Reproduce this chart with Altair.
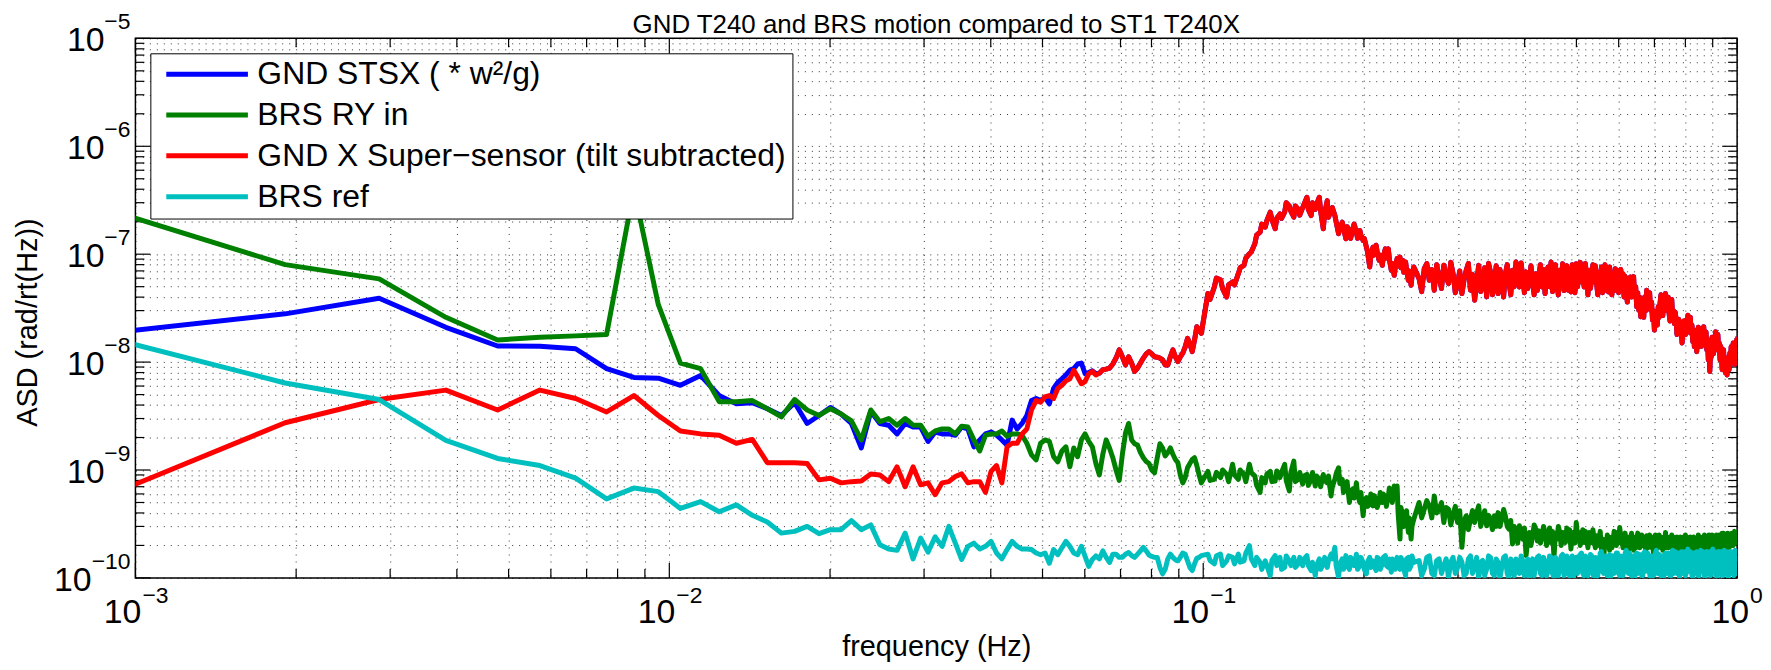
import altair as alt
import pandas as pd

FONT = "Liberation Sans"
W, H = 1609, 542
DF_HZ = 1.0 / 1048.576  # frequency resolution of the spectra (Hz per bin)

TITLE = "GND T240 and BRS motion compared to ST1 T240X"
X_TITLE = "frequency (Hz)"
Y_TITLE = "ASD (rad/rt(Hz))"

SERIES = ["GND STSX ( * w\u00b2/g)", "BRS RY in",
          "GND X Super\u2212sensor (tilt subtracted)", "BRS ref"]
COLORS = ["#0000FF", "#008000", "#FF0000", "#00BFBF"]

# bins: A = every bin from 1; B = from 107 step 3 (B2 one bin later);
# C = from 266 step 6 (C2 three bins later)
K_A_START = 1
K_B_START, K_B_STEP, K_B2_OFF = 107, 3, 1
K_C_START, K_C_STEP, K_C2_OFF = 266, 6, 3

NANO = 1e-9
TENTH_NANO = 1e-10

# ---- GND X Super-sensor (red), units of 1e-9 ----
RED_A = [0.67, 2.74, 4.5, 5.5, 3.6, 5.5, 4.6, 3.45, 4.9, 3.2,
         2.3, 2.16, 2.1, 1.77, 1.92, 1.17, 1.17, 1.17, 1.15, 0.81,
         0.84, 0.76, 0.78, 0.79, 0.92, 0.90, 0.78, 1.07, 0.70, 1.07,
         0.73, 0.76, 0.59, 0.76, 0.78, 0.87, 0.92, 0.76, 0.78, 0.78,
         0.62, 0.97, 1.1, 0.76, 1.64, 1.77, 1.77, 2.16, 2.4, 3.6,
         4.4, 4.25, 4.75, 4.9, 4.6, 5.7, 6.1, 6.7, 7.0, 8.4,
         7.3, 6.3, 6.6, 7.8, 8.2, 7.6, 7.9, 8.5, 8.6, 8.8,
         9.6, 10.9, 13.0, 11.2, 9.4, 11.2, 9.8, 8.2, 8.8, 9.8,
         10.9, 11.9, 12.5, 11.9, 11.2, 11.1, 10.9, 10.5, 9.4, 9.4,
         11.2, 13.0, 11.2, 10.1, 11.2, 12.1, 13.8, 16.6, 14.8, 12.5,
         16.0, 21.3, 19.8, 18.5]
RED_B = [43.2, 49.7, 58.0, 40.2, 55.3, 66.0, 78.8, 101, 125, 160,
         178, 245, 172, 236, 245, 280, 220, 260, 270, 337,
         228, 260, 337, 172, 313, 260, 228, 155, 198, 139,
         166, 172, 160, 166, 134, 116, 76.1, 116, 121, 87.7,
         78.8, 112, 112, 70.9, 63.7, 91, 94, 87.7, 84.6, 57.3,
         51.6, 76.1]
RED_B2 = [38, 60, 48, 52, 52, 75, 92, 105, 150, 190,
          205, 210, 215, 215, 300, 250, 280, 230, 290, 260,
          300, 290, 250, 240, 220, 270, 200, 175, 175, 180,
          140, 190, 140, 150, 140, 105, 95, 98, 105, 98,
          95, 92, 90, 82, 75, 78, 75, 68, 72, 70,
          62]
RED_C = [59.4, 73.4, 57.3, 46.4, 61.5, 78.8, 53.4, 66.0, 53.4, 43.2,
         70.9, 46.4, 37.5, 78.8, 53.4, 40.2, 68.4, 53.4, 43.2, 59.4,
         66.0, 55.3, 70.9, 84.6, 49.7, 61.5, 68.4, 57.3, 55.3, 66.0,
         63.7, 49.7, 43.2, 76.1, 84.6, 61.5, 53.4, 70.9, 81.7, 57.3,
         46.4, 44.7, 66.0, 81.7, 70.9, 55.3, 49.7, 59.4, 70.9, 63.7,
         55.3, 53.4, 68.4, 76.1, 61.5, 46.4, 44.7, 57.3, 66.0, 73.4,
         70.9, 55.3, 46.4, 40.2, 48.0, 59.4, 61.5, 53.4, 40.2, 32.5,
         30.3, 26.3, 32.5, 40.2, 46.4, 37.5, 30.3, 24.5, 19.8, 26.3,
         32.5, 34.9, 32.5, 37.5, 43.2, 34.9, 28.2, 32.5, 26.3, 22.8,
         24.5, 21.3, 18.5, 19.1, 18.5, 22.8, 24.5, 27.2, 22.8, 18.5,
         15.5, 13.9, 16.0, 17.8, 13.9, 17.2, 20.5, 21.3, 17.2, 13.0,
         10.5, 8.2, 11.2, 14.9, 17.2, 19.1, 16.0, 13.0, 10.5, 11.6,
         10.9, 9.1, 7.9, 7.6, 9.8, 12.1, 13.9, 13.0, 11.2, 13.0,
         16.0, 17.2]
RED_C2 = [45, 82, 72, 80, 48, 62, 84, 44, 70, 58,
          82, 65, 55, 45, 75, 82, 42, 78, 72, 40,
          80, 42, 50, 66, 83, 44, 48, 78, 42, 46,
          80, 72, 62, 50, 45, 80, 42, 52, 46, 78,
          70, 80, 44, 50, 84, 76, 82, 42, 48, 80,
          78, 42, 48, 44, 80, 68, 76, 42, 46, 48,
          44, 72, 66, 62, 36, 42, 40, 62, 50, 44,
          40, 38, 26, 30, 33, 44, 36, 30, 28, 22,
          26, 42, 27, 30, 31, 40, 24, 38, 30, 29,
          18, 25, 23, 15, 24, 18, 20, 19, 26, 22,
          20, 19, 12.5, 21, 18, 14, 16, 14.5, 19, 16,
          13, 12, 17, 12, 14, 13, 18, 15, 14, 8.5,
          13, 11, 10, 11, 8.5, 10, 10.5, 15, 9.5, 11,
          12]

# ---- GND STSX (blue), units of 1e-9; above bin 66 it lies under the red trace ----
BLUE_LOW = [19.2, 28, 39, 21, 14.1, 14.0, 13.3, 8.7, 7.2, 7.1,
            6.1, 7.5, 4.9, 4.1, 4.2, 3.7, 3.2, 4.2, 2.7, 3.2,
            3.8, 3.3, 2.7, 1.6, 3.5, 2.7, 2.6, 2.16, 2.7, 2.5,
            2.5, 1.84, 2.25, 2.16, 2.16, 2.1, 2.5, 2.4, 1.64, 1.9,
            2.16, 2.25, 2.1, 1.9, 1.7, 2.9, 2.4, 2.7, 3.2, 4.4,
            4.6, 4.4, 4.7, 4.1, 5.7, 6.5, 7.0, 7.6, 8.4, 8.7,
            9.6, 9.8, 7.8, 8.0, 8.3, 7.8]

# ---- BRS RY in (green), units of 1e-9 ----
GREEN_A = [231, 80, 59, 26, 16, 17, 17.5, 18, 400, 34,
           9.8, 8.7, 4.3, 4.3, 4.4, 3.7, 3.1, 4.5, 3.6, 3.2,
           3.7, 3.3, 2.85, 1.9, 3.6, 2.8, 3.0, 2.6, 3.0, 2.6,
           2.6, 2.05, 2.3, 2.4, 2.4, 2.16, 2.55, 2.5, 1.9, 1.5,
           2.1, 2.16, 2.16, 2.3, 2.05, 2.16, 2.16, 2.1, 1.77, 1.38,
           1.24, 1.77, 1.9, 1.84, 1.33, 1.19, 1.5, 1.64, 1.07, 1.6,
           1.33, 1.9, 2.16, 1.84, 1.64, 1.15, 0.9, 1.4, 1.9, 1.6,
           1.3, 1.0, 0.8, 1.4, 2.2, 2.7, 1.9, 1.75, 1.7, 1.45,
           1.3, 1.2, 1.15, 1.0, 0.94, 1.3, 1.75, 1.6, 1.35, 1.45,
           1.6, 1.4, 1.25, 1.17, 0.9, 0.76, 0.85, 1.05, 1.15, 1.25,
           1.3, 1.1, 0.9, 0.76]
GREEN_B = [0.97, 0.82, 0.85, 0.91, 1.13, 0.82, 0.91, 1.13, 0.88, 0.62,
           0.76, 0.97, 0.79, 0.85, 1.13, 0.64, 1.21, 0.82, 0.74, 0.91,
           0.82, 0.71, 0.82, 0.91, 0.76, 0.575, 0.82, 1.05, 0.82, 0.69,
           0.50, 0.67, 0.76, 0.50, 0.376, 0.555, 0.48, 0.465, 0.535, 0.52,
           0.50, 0.555, 0.575, 0.59, 0.71, 0.71, 0.229, 0.376, 0.326, 0.264,
           0.229, 0.35]
GREEN_B2 = [0.80, 0.95, 1.0, 0.78, 0.90, 1.0, 0.78, 0.95, 0.72, 0.85,
            0.92, 0.78, 0.98, 0.95, 0.80, 0.95, 0.78, 0.95, 0.88, 0.72,
            0.95, 0.88, 0.70, 0.80, 0.88, 0.70, 0.92, 0.75, 0.62, 0.78,
            0.62, 0.55, 0.60, 0.62, 0.50, 0.46, 0.60, 0.58, 0.45, 0.62,
            0.60, 0.46, 0.68, 0.50, 0.55, 0.40, 0.45, 0.30, 0.42, 0.36,
            0.30]
GREEN_C = [0.50, 0.433, 0.465, 0.575, 0.433, 0.326, 0.433, 0.39, 0.326, 0.192,
           0.376, 0.35, 0.326, 0.465, 0.35, 0.304, 0.35, 0.376, 0.403, 0.35,
           0.376, 0.283, 0.206, 0.264, 0.304, 0.229, 0.161, 0.264, 0.246, 0.283,
           0.273, 0.246, 0.264, 0.237, 0.213, 0.155, 0.229, 0.264, 0.264, 0.213,
           0.229, 0.185, 0.264, 0.326, 0.264, 0.221, 0.213, 0.246, 0.264, 0.237,
           0.229, 0.246, 0.221, 0.185, 0.155, 0.199, 0.229, 0.237, 0.221, 0.246,
           0.264, 0.293, 0.246, 0.221, 0.192, 0.172, 0.199, 0.229, 0.237, 0.221,
           0.246, 0.213, 0.199, 0.221, 0.246, 0.206, 0.192, 0.213, 0.199, 0.229,
           0.213, 0.192, 0.221, 0.237, 0.264, 0.229, 0.206, 0.192, 0.221, 0.237,
           0.206, 0.185, 0.199, 0.221, 0.199, 0.185, 0.229, 0.237, 0.206, 0.185,
           0.199, 0.229, 0.213, 0.192, 0.237, 0.213, 0.185, 0.206, 0.229, 0.199,
           0.185, 0.213, 0.192, 0.229, 0.206, 0.185, 0.221, 0.199, 0.246, 0.213,
           0.192, 0.229, 0.206, 0.185, 0.237, 0.221, 0.199, 0.246, 0.213, 0.255,
           0.221, 0.264]
GREEN_C2 = [0.36, 0.52, 0.36, 0.40, 0.50, 0.45, 0.31, 0.46, 0.42, 0.34,
            0.28, 0.42, 0.40, 0.30, 0.42, 0.38, 0.28, 0.30, 0.30, 0.43,
            0.30, 0.34, 0.30, 0.21, 0.25, 0.29, 0.22, 0.20, 0.31, 0.22,
            0.21, 0.30, 0.20, 0.29, 0.27, 0.26, 0.30, 0.20, 0.22, 0.29,
            0.28, 0.24, 0.21, 0.24, 0.20, 0.28, 0.27, 0.19, 0.21, 0.28,
            0.19, 0.20, 0.27, 0.23, 0.22, 0.25, 0.18, 0.19, 0.27, 0.20,
            0.21, 0.24, 0.19, 0.26, 0.24, 0.24, 0.26, 0.18, 0.19, 0.26,
            0.19, 0.25, 0.24, 0.18, 0.19, 0.25, 0.24, 0.17, 0.25, 0.19,
            0.25, 0.24, 0.18, 0.20, 0.19, 0.19, 0.24, 0.25, 0.18, 0.20,
            0.24, 0.23, 0.24, 0.18, 0.24, 0.25, 0.19, 0.18, 0.24, 0.23,
            0.24, 0.18, 0.19, 0.25, 0.18, 0.18, 0.24, 0.25, 0.19, 0.24,
            0.25, 0.18, 0.25, 0.19, 0.24, 0.25, 0.19, 0.25, 0.19, 0.26,
            0.26, 0.19, 0.25, 0.26, 0.19, 0.20, 0.26, 0.20, 0.27, 0.21,
            0.22]

# ---- BRS ref (cyan), units of 1e-10 ----
CYAN_A = [154, 64, 45, 18.8, 12.8, 11.0, 8.4, 5.4, 6.8, 6.3,
          4.4, 5.1, 4.1, 4.75, 3.8, 3.3, 2.6, 2.7, 3.0, 2.57,
          2.8, 2.8, 3.4, 2.8, 3.1, 2.03, 1.85, 1.8, 2.6, 1.5,
          2.34, 1.73, 2.4, 1.96, 3.0, 2.1, 1.48, 1.96, 2.1, 1.85,
          1.96, 2.18, 1.7, 1.5, 1.83, 2.18, 1.96, 1.85, 1.85, 1.83,
          1.7, 1.64, 1.7, 1.37, 1.83, 1.64, 1.9, 2.18, 1.96, 1.7,
          1.64, 1.96, 1.58, 1.28, 1.48, 1.6, 1.50, 1.78, 1.55, 1.39,
          1.66, 1.66, 1.55, 1.55, 1.66, 1.72, 1.61, 1.55, 1.66, 1.78,
          1.92, 1.78, 1.63, 1.58, 1.55, 1.55, 1.25, 1.09, 1.2, 1.5,
          1.66, 1.55, 1.47, 1.44, 1.55, 1.7, 1.66, 1.44, 1.25, 1.17,
          1.35, 1.52, 1.55, 1.61]
CYAN_B = [1.66, 1.35, 1.66, 1.44, 1.55, 1.66, 1.44, 1.99, 1.30, 1.39,
          1.44, 1.05, 1.61, 1.55, 1.25, 1.44, 1.55, 1.35, 1.30, 1.61,
          1.17, 1.05, 1.50, 1.35, 1.25, 1.66, 1.92, 1.01, 1.50, 1.61,
          1.2, 1.44, 1.66, 1.30, 1.39, 1.09, 1.55, 1.44, 1.17, 1.50,
          1.35, 1.61, 1.25, 1.13, 1.44, 1.55, 1.2, 1.39, 1.05, 1.55,
          1.30, 1.39]
CYAN_B2 = [1.45, 1.6, 1.3, 1.6, 1.35, 1.4, 1.7, 1.5, 1.55, 1.2,
           1.3, 1.45, 1.3, 1.2, 1.6, 1.3, 1.25, 1.55, 1.5, 1.3,
           1.4, 1.3, 1.2, 1.55, 1.45, 1.5, 1.3, 1.35, 1.2, 1.3,
           1.55, 1.3, 1.2, 1.55, 1.2, 1.4, 1.25, 1.3, 1.55, 1.2,
           1.55, 1.3, 1.5, 1.5, 1.2, 1.3, 1.55, 1.2, 1.5, 1.2,
           1.6]
CYAN_C = [1.45, 1.2, 1.6, 1.05, 1.5, 1.3, 1.0, 1.55, 1.25, 1.4,
          1.1, 1.6, 1.3, 0.98, 1.45, 1.2, 1.55, 1.05, 1.4, 1.25,
          1.6, 1.0, 1.35, 1.5, 1.1, 1.45, 1.2, 0.97, 1.5, 1.3,
          1.6, 1.05, 1.4, 1.15, 1.55, 1.0, 1.45, 1.25, 1.65, 1.1,
          1.5, 1.2, 0.98, 1.55, 1.3, 1.7, 1.05, 1.45, 1.2, 1.6,
          1.0, 1.5, 1.25, 1.75, 1.1, 1.55, 1.3, 0.97, 1.6, 1.2,
          1.7, 1.05, 1.5, 1.25, 1.8, 1.1, 1.6, 1.3, 1.0, 1.7,
          1.2, 1.55, 1.05, 1.75, 1.3, 1.6, 0.98, 1.5, 1.2, 1.8,
          1.1, 1.6, 1.3, 1.0, 1.7, 1.25, 1.55, 1.05, 1.8, 1.2,
          1.6, 1.35, 0.98, 1.75, 1.25, 1.55, 1.1, 1.85, 1.3, 1.6,
          1.0, 1.7, 1.25, 1.5, 1.05, 1.8, 1.3, 1.65, 0.98, 1.75,
          1.2, 1.55, 1.1, 1.85, 1.3, 1.6, 1.0, 1.75, 1.25, 1.55,
          1.05, 1.8, 1.3, 1.6, 1.0, 1.75, 1.2, 1.65, 1.05, 1.8,
          1.3, 1.6]
CYAN_C2 = [1.05, 1.55, 1.1, 1.45, 1.1, 1.5, 1.4, 1.1, 1.55, 1.05,
           1.5, 1.1, 1.55, 1.4, 1.05, 1.6, 1.1, 1.5, 1.0, 1.55,
           1.1, 1.5, 1.05, 1.15, 1.6, 1.05, 1.5, 1.4, 1.05, 1.55,
           1.1, 1.55, 1.05, 1.6, 1.1, 1.55, 1.05, 1.6, 1.05, 1.6,
           1.05, 1.6, 1.5, 1.1, 1.65, 1.1, 1.6, 1.05, 1.65, 1.1,
           1.55, 1.05, 1.7, 1.15, 1.6, 1.05, 1.65, 1.55, 1.1, 1.7,
           1.1, 1.6, 1.05, 1.7, 1.15, 1.7, 1.05, 1.6, 1.65, 1.1,
           1.65, 1.05, 1.7, 1.15, 1.7, 1.1, 1.6, 1.05, 1.7, 1.1,
           1.65, 1.05, 1.6, 1.65, 1.1, 1.7, 1.05, 1.7, 1.1, 1.75,
           1.1, 1.7, 1.65, 1.1, 1.75, 1.05, 1.7, 1.15, 1.75, 1.05,
           1.7, 1.1, 1.75, 1.05, 1.7, 1.15, 1.75, 1.05, 1.7, 1.1,
           1.75, 1.05, 1.75, 1.15, 1.75, 1.05, 1.7, 1.1, 1.75, 1.05,
           1.7, 1.1, 1.75, 1.05, 1.75, 1.1, 1.75, 1.1, 1.75, 1.1,
           1.1]

# ---- axes: decades, tick labels ----
X_DECADES = [1e-3, 1e-2, 1e-1, 1.0]
X_EXP = ["\u22123", "\u22122", "\u22121", "0"]
Y_DECADES = [1e-10, 1e-9, 1e-8, 1e-7, 1e-6, 1e-5]
Y_EXP = ["\u221210", "\u22129", "\u22128", "\u22127", "\u22126", "\u22125"]
MANTISSAS = [2, 3, 4, 5, 6, 7, 8, 9]

X_MINOR = [m * d for d in X_DECADES[:-1] for m in MANTISSAS]
Y_MINOR = [m * d for d in Y_DECADES[:-1] for m in MANTISSAS]
X_GRID = sorted(X_DECADES + X_MINOR)
Y_GRID = sorted(Y_DECADES + Y_MINOR)


def segment(vals, start, step, between=None, off=0):
    pairs = [(start + step * i, v) for i, v in enumerate(vals)]
    if between:
        pairs += [(start + step * i + off, v) for i, v in enumerate(between)]
    return sorted(pairs)


def series_frame(name, seg_a, seg_b, seg_b2, seg_c, seg_c2, unit):
    pairs = (segment(seg_a, K_A_START, 1)
             + segment(seg_b, K_B_START, K_B_STEP, seg_b2, K_B2_OFF)
             + segment(seg_c, K_C_START, K_C_STEP, seg_c2, K_C2_OFF))
    return pd.DataFrame({"f": [k * DF_HZ for k, _ in pairs],
                         "a": [v * unit for _, v in pairs],
                         "series": name})


frames = [
    series_frame(SERIES[0], BLUE_LOW + RED_A[len(BLUE_LOW):], RED_B, RED_B2, RED_C, RED_C2, NANO),
    series_frame(SERIES[1], GREEN_A, GREEN_B, GREEN_B2, GREEN_C, GREEN_C2, NANO),
    series_frame(SERIES[2], RED_A, RED_B, RED_B2, RED_C, RED_C2, NANO),
    series_frame(SERIES[3], CYAN_A, CYAN_B, CYAN_B2, CYAN_C, CYAN_C2, TENTH_NANO),
]

xscale = alt.Scale(type="log", domain=[1e-3, 1.0], nice=False)
yscale = alt.Scale(type="log", domain=[1e-10, 1e-5], nice=False)
color_scale = alt.Scale(domain=SERIES, range=COLORS)

x_axis = alt.Axis(values=X_GRID, grid=True, gridColor="#000000", gridDash=[1, 6],
                  gridWidth=1, gridOpacity=0.8, labels=False, ticks=False, domain=False,
                  title=X_TITLE, titleFont=FONT, titleFontSize=29, titleFontWeight="normal",
                  titleColor="#000000", titlePadding=55)
y_axis = alt.Axis(values=Y_GRID, grid=True, gridColor="#000000", gridDash=[1, 6],
                  gridWidth=1, gridOpacity=0.8, labels=False, ticks=False, domain=False,
                  title=Y_TITLE, titleFont=FONT, titleFontSize=29, titleFontWeight="normal",
                  titleColor="#000000", titleX=-93, titleY=H / 2 + 14, titleAngle=270,
                  titleAlign="center", titleBaseline="bottom", minExtent=0)

legend = alt.Legend(title=None, orient="none", legendX=15, legendY=15,
                    symbolType="stroke", symbolSize=6724, symbolStrokeWidth=5,
                    clipHeight=30, rowPadding=9, padding=6,
                    labelFont=FONT, labelFontSize=32, labelColor="#000000", labelLimit=1000,
                    symbolOffset=7.5, labelOffset=7,
                    strokeColor="#000000", fillColor="#FFFFFF")

EX = alt.X("f:Q", scale=xscale, axis=x_axis)
EY_V = alt.Y("v:Q", scale=yscale, axis=y_axis)

layers = []


# inward tick marks on all four sides
def x_ticks(vals, length):
    d = pd.DataFrame({"f": vals})
    base = alt.Chart(d).mark_rule(color="#000000", strokeWidth=1.2)
    return [base.encode(x=EX, y=alt.value(H), y2=alt.value(H - length)),
            base.encode(x=EX, y=alt.value(0), y2=alt.value(length))]


def y_ticks(vals, length):
    d = pd.DataFrame({"v": vals})
    base = alt.Chart(d).mark_rule(color="#000000", strokeWidth=1.2)
    return [base.encode(y=EY_V, x=alt.value(0), x2=alt.value(length)),
            base.encode(y=EY_V, x=alt.value(W), x2=alt.value(W - length))]


layers += x_ticks(X_MINOR, 9) + x_ticks(X_DECADES, 15)
layers += y_ticks(Y_MINOR, 9) + y_ticks(Y_DECADES, 15)

# data traces (drawn in legend order)
for fr in frames:
    layers.append(
        alt.Chart(fr).mark_line(clip=True, strokeWidth=5, strokeJoin="round").encode(
            x=EX,
            y=alt.Y("a:Q", scale=yscale, axis=y_axis),
            color=alt.Color("series:N", scale=color_scale, legend=legend),
        )
    )

# tick labels 10^n
ylab = pd.DataFrame({"v": Y_DECADES, "base": ["10"] * len(Y_DECADES), "exp": Y_EXP})
layers.append(alt.Chart(ylab).transform_filter("length(datum.exp) < 3")
              .mark_text(align="right", baseline="alphabetic", font=FONT, fontSize=34, dy=13, color="#000000")
              .encode(y=EY_V, x=alt.value(-31), text="base:N"))
layers.append(alt.Chart(ylab).transform_filter("length(datum.exp) >= 3")
              .mark_text(align="right", baseline="alphabetic", font=FONT, fontSize=34, dy=13, color="#000000")
              .encode(y=EY_V, x=alt.value(-44), text="base:N"))
layers.append(alt.Chart(ylab)
              .mark_text(align="right", baseline="alphabetic", font=FONT, fontSize=23, dy=-9, color="#000000")
              .encode(y=EY_V, x=alt.value(-5), text="exp:N"))

xlab = pd.DataFrame({"f": X_DECADES, "base": ["10"] * len(X_DECADES), "exp": X_EXP})
layers.append(alt.Chart(xlab).transform_filter("length(datum.exp) >= 2")
              .mark_text(align="right", baseline="alphabetic", font=FONT, fontSize=34, dx=6, color="#000000")
              .encode(x=EX, y=alt.value(H + 45), text="base:N"))
layers.append(alt.Chart(xlab).transform_filter("length(datum.exp) < 2")
              .mark_text(align="right", baseline="alphabetic", font=FONT, fontSize=34, dx=12, color="#000000")
              .encode(x=EX, y=alt.value(H + 45), text="base:N"))
layers.append(alt.Chart(xlab).transform_filter("length(datum.exp) >= 2")
              .mark_text(align="left", baseline="alphabetic", font=FONT, fontSize=23, dx=7, color="#000000")
              .encode(x=EX, y=alt.value(H + 25), text="exp:N"))
layers.append(alt.Chart(xlab).transform_filter("length(datum.exp) < 2")
              .mark_text(align="left", baseline="alphabetic", font=FONT, fontSize=23, dx=13, color="#000000")
              .encode(x=EX, y=alt.value(H + 25), text="exp:N"))

# chart title
layers.append(alt.Chart(pd.DataFrame({"t": [TITLE]}))
              .mark_text(align="center", baseline="alphabetic", font=FONT, fontSize=26, color="#000000")
              .encode(x=alt.value(W / 2), y=alt.value(-5), text="t:N"))

chart = alt.layer(*layers).properties(
    width=W, height=H,
    padding={"left": 128, "top": 29, "right": 26, "bottom": 90},
    autosize=alt.AutoSizeParams(type="none"),
).configure_view(stroke="#000000", strokeWidth=1.5)

chart.save("out.html", embed_options={"renderer": "svg", "actions": False})
